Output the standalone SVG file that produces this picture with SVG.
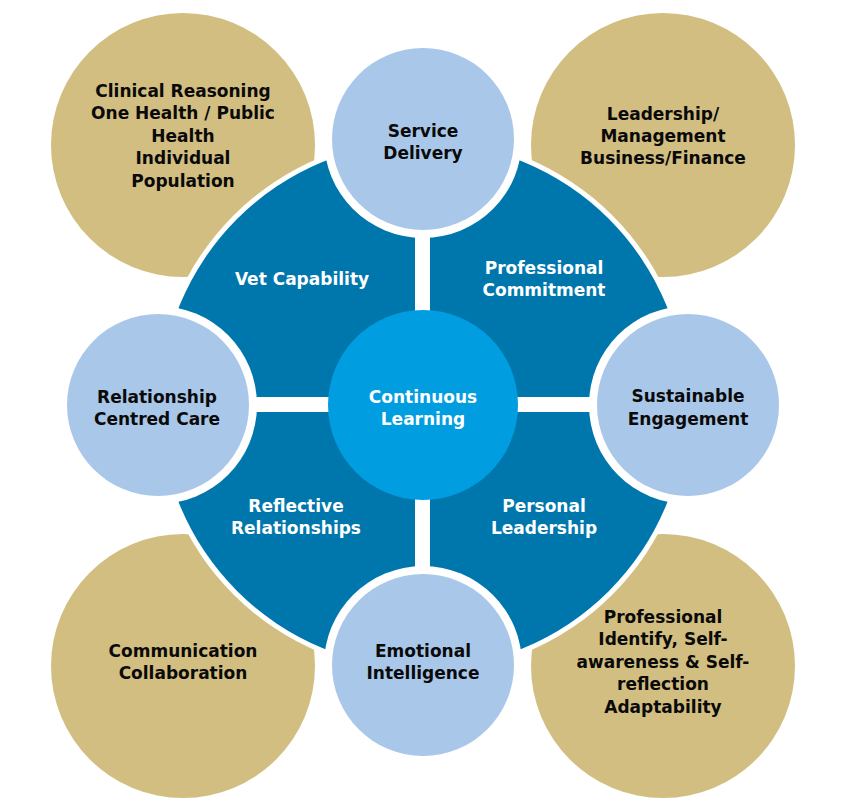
<svg xmlns="http://www.w3.org/2000/svg" width="850" height="809" viewBox="0 0 850 809">
  <style>
    .tan { fill: #d2be80; }
    .ring { fill: #0077ac; }
    .halo { fill: #ffffff; }
    .lb { fill: #a9c7e9; }
    .core { fill: #009ee0; }
    text { font-family: "DejaVu Sans", "Liberation Sans", sans-serif; font-weight: bold; font-size: 17px; text-anchor: middle; }
    .dark { fill: #0a0a0a; }
    .light { fill: #ffffff; }
  </style>
  <rect width="850" height="809" fill="#ffffff"/>

  <!-- outer tan circles -->
  <g id="tan-top-left">
    <circle class="tan" cx="183" cy="145" r="132"/>
  </g>
  <g id="tan-top-right">
    <circle class="tan" cx="663" cy="145" r="132"/>
  </g>
  <g id="tan-bottom-left">
    <circle class="tan" cx="183" cy="666" r="132"/>
  </g>
  <g id="tan-bottom-right">
    <circle class="tan" cx="663" cy="666" r="132"/>
  </g>

  <!-- blue ring with quadrants -->
  <g id="blue-ring">
    <circle class="halo" cx="423" cy="405" r="268"/>
    <circle class="ring" cx="423" cy="405" r="263"/>
  </g>
  <g id="connectors">
    <rect x="150" y="397" width="550" height="15" fill="#ffffff"/>
    <rect x="415" y="130" width="15" height="550" fill="#ffffff"/>
  </g>

  <!-- light blue circles -->
  <g id="service-delivery">
    <circle class="halo" cx="423" cy="139" r="99"/>
    <circle class="lb" cx="423" cy="139" r="91"/>
  </g>
  <g id="relationship-centred-care">
    <circle class="halo" cx="158" cy="405" r="99"/>
    <circle class="lb" cx="158" cy="405" r="91"/>
  </g>
  <g id="sustainable-engagement">
    <circle class="halo" cx="688" cy="405" r="99"/>
    <circle class="lb" cx="688" cy="405" r="91"/>
  </g>
  <g id="emotional-intelligence">
    <circle class="halo" cx="423" cy="665" r="99"/>
    <circle class="lb" cx="423" cy="665" r="91"/>
  </g>
  <g id="continuous-learning">
    <circle class="core" cx="423" cy="405" r="95"/>
  </g>

  <!-- labels -->
  <g id="labels">
    <text class="dark" x="183" y="96.5">Clinical Reasoning</text>
    <text class="dark" x="183" y="119">One Health / Public</text>
    <text class="dark" x="183" y="141.5">Health</text>
    <text class="dark" x="183" y="164">Individual</text>
    <text class="dark" x="183" y="186.5">Population</text>

    <text class="dark" x="423" y="136.5">Service</text>
    <text class="dark" x="423" y="159">Delivery</text>

    <text class="dark" x="663" y="120">Leadership/</text>
    <text class="dark" x="663" y="142">Management</text>
    <text class="dark" x="663" y="164">Business/Finance</text>

    <text class="light" x="302" y="284.5">Vet Capability</text>

    <text class="light" x="544" y="274">Professional</text>
    <text class="light" x="544" y="296">Commitment</text>

    <text class="dark" x="157" y="402.5">Relationship</text>
    <text class="dark" x="157" y="425">Centred Care</text>

    <text class="light" x="423" y="402.5">Continuous</text>
    <text class="light" x="423" y="425">Learning</text>

    <text class="dark" x="688" y="402">Sustainable</text>
    <text class="dark" x="688" y="424.5">Engagement</text>

    <text class="light" x="296" y="512">Reflective</text>
    <text class="light" x="296" y="534">Relationships</text>

    <text class="light" x="544" y="512">Personal</text>
    <text class="light" x="544" y="534">Leadership</text>

    <text class="dark" x="183" y="657">Communication</text>
    <text class="dark" x="183" y="679">Collaboration</text>

    <text class="dark" x="423" y="657">Emotional</text>
    <text class="dark" x="423" y="679">Intelligence</text>

    <text class="dark" x="663" y="622.5">Professional</text>
    <text class="dark" x="663" y="645">Identify, Self-</text>
    <text class="dark" x="663" y="667.5">awareness &amp; Self-</text>
    <text class="dark" x="663" y="690">reflection</text>
    <text class="dark" x="663" y="712.5">Adaptability</text>
  </g>
</svg>
